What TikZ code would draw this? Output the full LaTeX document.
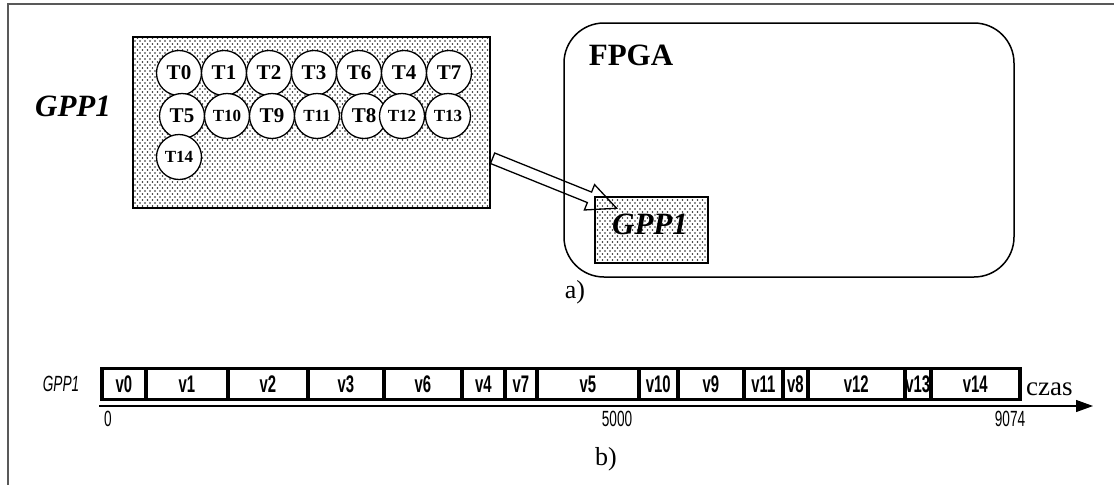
\documentclass[tikz,border=0pt]{standalone}
\usepackage{fontspec}
\setmainfont{Liberation Serif}
\newfontfamily\narrowsans[FakeStretch=0.62]{Liberation Sans}
\usetikzlibrary{patterns,shapes.arrows,calc,arrows.meta}
\pgfdeclarepatternformonly{stipple}{\pgfqpoint{-1pt}{-1pt}}{\pgfqpoint{6pt}{7pt}}{\pgfqpoint{5pt}{6pt}}{%
  \pgfpathcircle{\pgfqpoint{0pt}{0pt}}{0.8pt}%
  \pgfpathcircle{\pgfqpoint{2.5pt}{3pt}}{0.8pt}%
  \pgfusepath{fill}}
\begin{document}
\begin{tikzpicture}[x=1pt,y=-1pt,
  dotbox/.style={draw, line width=1.6pt, preaction={fill=white}, pattern=stipple, pattern color=black!85, inner sep=0pt},
  task/.style={circle, draw, line width=1.3pt, fill=white, minimum size=45pt, inner sep=0pt, font=\fontsize{21}{21}\selectfont\bfseries},
  tasksmall/.style={task, font=\fontsize{17}{17}\selectfont\bfseries},
  biglabel/.style={inner sep=0pt, font=\fontsize{31}{33}\selectfont\bfseries\itshape},
  fpgalabel/.style={inner sep=0pt, font=\fontsize{31}{33}\selectfont\bfseries},
  caplabel/.style={inner sep=0pt, font=\fontsize{26}{28}\selectfont},
  seg/.style={draw, line width=3.6pt, minimum height=31pt, inner sep=0pt, anchor=west, font=\narrowsans\bfseries\fontsize{24}{24}\selectfont},
  ticklabel/.style={inner sep=0pt, font=\narrowsans\fontsize{22}{22}\selectfont},
  framecol/.style={draw=black!65, line width=1.3pt}
]
\useasboundingbox (0,0) rectangle (1114,485);
% frame
\draw[framecol] (1114,4) -- (8,4) -- (8,485);

% a) part
\node[biglabel] (gpplab) at (73,106) {GPP1};
\node[dotbox, minimum width=357pt, minimum height=171pt] (gppbox) at (311.5,122.5) {};

\foreach \nm/\xx/\yy/\st in {T0/179/73/task, T1/224/73/task, T2/269/73/task, T3/314/73/task, T6/359/73/task, T4/404/73/task, T7/449/73/task,
  T5/182/116/task, T10/227/116/tasksmall, T9/272/116/task, T11/317/116/tasksmall, T8/364/116/task, T12/402/116/tasksmall, T13/448/116/tasksmall,
  T14/179/157/tasksmall}
  \node[\st] (\nm) at (\xx,\yy) {\nm};

\node[draw, line width=1.5pt, rounded corners=40pt, minimum width=450pt, minimum height=254pt, inner sep=0pt] (fpga) at (789,150) {};
\node[fpgalabel] (fpgalab) at (631,55) {FPGA};
\node[dotbox, minimum width=113pt, minimum height=66pt] (fgpp) at (651.5,230) {};
\node[biglabel] (fgpplab) at (650,224) {GPP1};
\node[caplabel] (alab) at (575,292) {a)};

\coordinate (atail) at (487,156);
\coordinate (atip) at (611,206);
\path let \p1=($(atip)-(atail)$), \n1={atan2(\y1,\x1)}, \n2={veclen(\x1,\y1)} in
  node[draw, line width=1.3pt, single arrow, single arrow head extend=8pt, single arrow tip angle=50,
       inner xsep=0pt, inner ysep=5pt, minimum height=\n2, rotate=\n1] (harrow) at ($(atail)!0.5!(atip)$) {};

% b) part
\node[inner sep=0pt, font=\narrowsans\itshape\fontsize{22}{22}\selectfont] (tgpp) at (61,384) {GPP1};
\foreach \nm/\a/\b in {v0/100/144, v1/144/226, v2/226/306, v3/306/382, v6/382/460, v4/460/503, v7/503/535, v5/535/637, v10/637/676, v9/676/742, v11/742/781, v8/781/806, v12/806/903, v13/903/929, v14/929/1018}
  \node[seg, minimum width={\b-\a}] (\nm) at (\a,384) {\nm};

\coordinate (axstart) at (99,406);
\coordinate (axend) at (1093,406);
\draw[line width=1.1pt, -{Triangle[length=17pt,width=12pt]}] (axstart) -- (axend);
\node[caplabel, font=\fontsize{27}{28}\selectfont, anchor=base west] (czas) at (1026,395) {czas};
\node[ticklabel] (t0) at (108,419) {0};
\node[ticklabel] (t5000) at (617,419) {5000};
\node[ticklabel] (t9074) at (1010,419) {9074};
\node[caplabel] (blab) at (606,459) {b)};
\end{tikzpicture}
\end{document}
